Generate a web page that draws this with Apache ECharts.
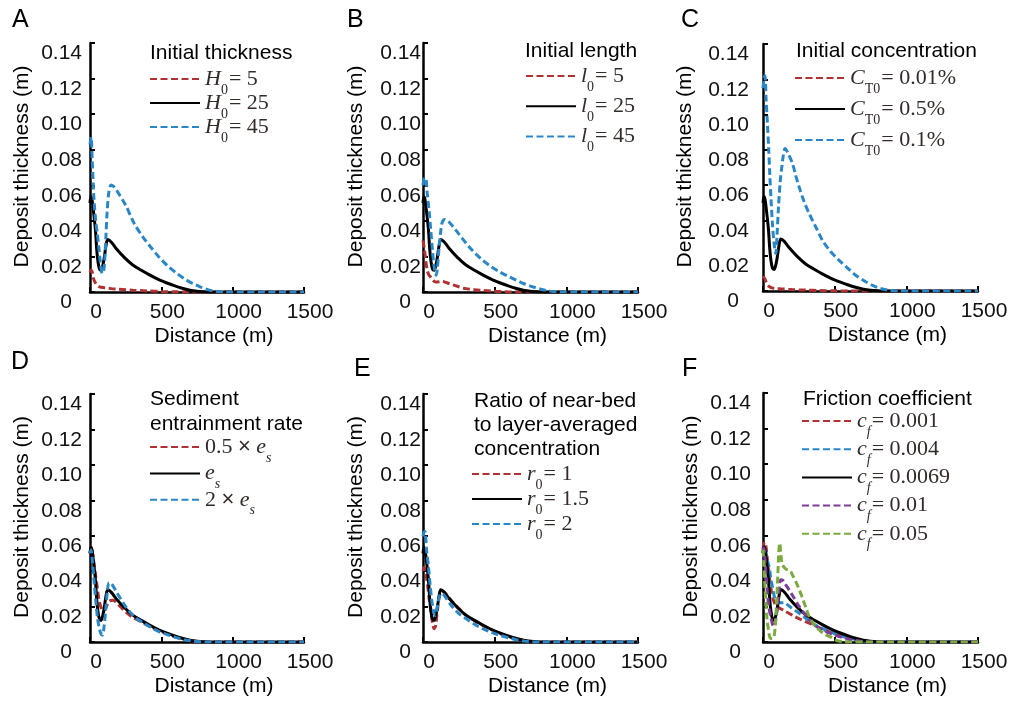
<!DOCTYPE html>
<html><head><meta charset="utf-8">
<script src="https://cdn.jsdelivr.net/npm/echarts@6/dist/echarts.min.js"></script>
<style>html,body{margin:0;padding:0;background:#fff}#c{width:1016px;height:701px}</style>
</head><body><div id="c"></div>
<script>
// ---------- data (distance m, deposit thickness m) ----------
const xTickValues = [0, 500, 1000, 1500];
const yTickValues = [0, 0.02, 0.04, 0.06, 0.08, 0.10, 0.12, 0.14];
const panelLetters = ['A', 'B', 'C', 'D', 'E', 'F'];
const panelTitles = ['Initial thickness', 'Initial length', 'Initial concentration',
  'Sediment\nentrainment rate', 'Ratio of near-bed\nto layer-averaged\nconcentration', 'Friction coefficient'];

// reference case (black solid curve, identical in every panel)
const baseCase = [[0,0.050],[6,0.0535],[14,0.052],[25,0.045],[38,0.035],[47,0.024],[56,0.017],[66,0.0130],[77,0.0122],[90,0.015],[101,0.020],[112,0.026],[124,0.0295],[150,0.028],[183,0.0245],[240,0.0195],[300,0.0152],[360,0.0122],[417,0.0096],[475,0.0072],[535,0.0052],[595,0.0034],[652,0.002],[700,0.001],[750,0.0004],[800,0.0001],[850,0],[1500,0]];

// A: initial thickness
const A_H5 = [[0,0.011],[8,0.0124],[16,0.011],[25,0.0075],[35,0.0055],[50,0.0038],[70,0.0028],[100,0.0024],[150,0.0019],[200,0.0015],[300,0.0010],[400,0.0006],[500,0.0003],[600,0.0001],[700,0],[1500,0]];
const A_H45 = [[0,0.083],[8,0.087],[15,0.075],[28,0.052],[40,0.040],[51,0.033],[62,0.025],[72,0.017],[86,0.0104],[96,0.012],[104,0.019],[112,0.032],[120,0.045],[132,0.056],[148,0.0602],[170,0.059],[200,0.0555],[250,0.0488],[310,0.0385],[370,0.031],[425,0.0253],[480,0.020],[540,0.015],[600,0.011],[660,0.0075],[720,0.0048],[775,0.0028],[830,0.0012],[890,0.0003],[950,0],[1500,0]];

// B: initial length
const B_l5 = [[0,0.029],[10,0.024],[19,0.0178],[30,0.012],[42,0.0095],[54,0.0084],[70,0.0065],[89,0.0056],[110,0.0057],[136,0.006],[160,0.0054],[183,0.0047],[240,0.0032],[300,0.0019],[360,0.0013],[417,0.0009],[480,0.0005],[550,0.0002],[620,0],[1500,0]];
const B_l45 = [[0,0.060],[10,0.064],[19,0.064],[30,0.055],[42,0.046],[55,0.034],[66,0.0235],[78,0.014],[92,0.0094],[100,0.013],[112,0.025],[125,0.035],[135,0.0394],[152,0.0408],[180,0.0395],[229,0.0348],[275,0.030],[323,0.0253],[370,0.0213],[417,0.0178],[475,0.0143],[535,0.0113],[595,0.0088],[652,0.0066],[710,0.0045],[770,0.0028],[830,0.0014],[887,0.0005],[950,0],[1500,0]];

// C: initial concentration
const C_001 = [[0,0.0073],[7,0.0078],[15,0.0065],[25,0.0045],[42,0.0026],[60,0.0018],[89,0.0015],[130,0.0012],[200,0.0008],[300,0.0005],[400,0.0003],[500,0.0001],[600,0],[1500,0]];
const C_01 = [[0,0.115],[8,0.121],[14,0.122],[22,0.108],[31,0.0948],[40,0.080],[47,0.0665],[56,0.052],[66,0.038],[77,0.027],[89,0.0212],[98,0.032],[108,0.0476],[120,0.062],[131,0.0702],[142,0.077],[154,0.0807],[175,0.078],[206,0.0722],[230,0.065],[252,0.059],[285,0.051],[322,0.0439],[370,0.036],[415,0.0287],[470,0.0225],[531,0.0174],[590,0.013],[647,0.0089],[705,0.0058],[764,0.0032],[820,0.0014],[880,0.0004],[940,0],[1500,0]];

// D: sediment entrainment rate
const D_half = [[0,0.050],[9,0.0538],[18,0.050],[28,0.044],[40,0.037],[52,0.030],[63,0.0236],[75,0.020],[86,0.018],[100,0.018],[115,0.020],[135,0.023],[160,0.0235],[200,0.021],[250,0.017],[308,0.0135],[370,0.011],[425,0.0085],[480,0.0065],[541,0.0045],[600,0.0028],[658,0.0016],[720,0.0006],[780,0.0001],[850,0],[1500,0]];
const D_double = [[0,0.050],[7,0.052],[15,0.047],[28,0.035],[40,0.0236],[52,0.014],[63,0.0085],[75,0.005],[86,0.0038],[96,0.007],[110,0.018],[122,0.029],[133,0.0335],[150,0.033],[191,0.0275],[250,0.020],[308,0.0145],[370,0.011],[425,0.0083],[480,0.006],[541,0.0042],[600,0.0026],[658,0.0013],[720,0.0005],[780,0.0001],[850,0],[1500,0]];

// E: near-bed ratio
const E_r1 = [[0,0.040],[8,0.042],[18,0.039],[31,0.033],[42,0.025],[54,0.0178],[66,0.011],[77,0.0075],[88,0.009],[100,0.0178],[115,0.026],[131,0.029],[160,0.027],[206,0.0226],[250,0.019],[300,0.015],[360,0.012],[417,0.0094],[475,0.007],[535,0.0047],[595,0.003],[652,0.0019],[710,0.0008],[770,0.0002],[830,0],[1500,0]];
const E_r2 = [[0,0.0595],[7,0.062],[14,0.0624],[25,0.052],[38,0.0425],[50,0.032],[61,0.0236],[72,0.018],[84,0.015],[96,0.018],[108,0.0236],[120,0.027],[131,0.0273],[160,0.025],[206,0.0197],[250,0.016],[300,0.0132],[360,0.010],[417,0.0075],[475,0.0055],[535,0.0038],[595,0.0024],[652,0.0013],[710,0.0005],[770,0.0001],[830,0],[1500,0]];

// F: friction coefficient
const F_001 = [[0,0.052],[10,0.056],[20,0.054],[31,0.046],[45,0.036],[60,0.028],[75,0.023],[95,0.020],[117,0.019],[150,0.0175],[210,0.0148],[260,0.0128],[310,0.011],[345,0.0098],[400,0.0078],[460,0.0058],[530,0.0038],[600,0.0022],[670,0.001],[740,0.0003],[800,0],[1500,0]];
const F_004 = [[0,0.050],[10,0.0537],[18,0.052],[30,0.046],[42,0.0425],[54,0.036],[66,0.031],[78,0.026],[89,0.0237],[105,0.0225],[125,0.022],[145,0.0222],[170,0.021],[200,0.019],[229,0.0175],[280,0.0145],[345,0.0105],[400,0.008],[460,0.006],[530,0.0038],[600,0.0022],[670,0.001],[740,0.0003],[800,0],[1500,0]];
const F_01 = [[0,0.052],[6,0.053],[14,0.046],[22,0.037],[31,0.0273],[42,0.019],[54,0.0143],[66,0.010],[77,0.0086],[88,0.012],[101,0.020],[112,0.029],[124,0.035],[140,0.0345],[160,0.032],[182,0.0293],[215,0.025],[252,0.020],[300,0.0148],[345,0.0105],[380,0.0085],[415,0.0068],[470,0.0048],[531,0.0031],[590,0.0017],[647,0.0008],[700,0.0002],[760,0],[1500,0]];
const F_05 = [[0,0.052],[5,0.045],[12,0.033],[19,0.0237],[28,0.013],[38,0.0068],[46,0.003],[54,0.002],[65,0.002],[77,0.003],[88,0.012],[101,0.033],[110,0.050],[117,0.0556],[126,0.048],[136,0.0434],[160,0.041],[189,0.040],[210,0.037],[229,0.034],[255,0.029],[280,0.0237],[300,0.019],[322,0.0143],[350,0.0105],[380,0.0077],[410,0.0055],[439,0.004],[467,0.003],[509,0.001],[560,0.0002],[620,0],[1500,0]];

// legend labels (rich text)
const legendLabels = {
  A1: '{i|H}{s|0}{n|= 5}', A2: '{i|H}{s|0}{n|= 25}', A3: '{i|H}{s|0}{n|= 45}',
  B1: '{i|l}{s|0}{n|= 5}', B2: '{i|l}{s|0}{n|= 25}', B3: '{i|l}{s|0}{n|= 45}',
  C1: '{i|C}{s|T0}{n|= 0.01%}', C2: '{i|C}{s|T0}{n|= 0.5%}', C3: '{i|C}{s|T0}{n|= 0.1%}',
  D1: '{n|0.5 }{x|×}{n| }{i|e}{si|s}', D2: '{i|e}{si|s}', D3: '{n|2 }{x|×}{n| }{i|e}{si|s}',
  E1: '{i|r}{s|0}{n|= 1}', E2: '{i|r}{s|0}{n|= 1.5}', E3: '{i|r}{s|0}{n|= 2}',
  F1: '{i|c}{si|f}{n|= 0.001}', F2: '{i|c}{si|f}{n|= 0.004}', F3: '{i|c}{si|f}{n|= 0.0069}',
  F4: '{i|c}{si|f}{n|= 0.01}', F5: '{i|c}{si|f}{n|= 0.05}'
};

// ---------- styling / layout ----------
const SANS = 'Liberation Sans, Arial, sans-serif';
const SERIF = 'Liberation Serif, Times New Roman, serif';
const RED = '#b03232', BLUE = '#2a87c7', BLACK = '#000000', PURPLE = '#7d3c98', GREEN = '#7bab3d';

const panels = [
  { grid:{left:90, top:43, width:214, height:249}, letter:{left:12, top:8}, title:{left:150, top:41},
    legend:{left:149, top:61, gap:-12}, yGap:57, labMargin:8,
    series:[['A1',A_H5,RED,true],['A2',baseCase,BLACK,false],['A3',A_H45,BLUE,true]] },
  { grid:{left:423, top:43, width:215, height:249}, letter:{left:347, top:8}, title:{left:525, top:39},
    legend:{left:525, top:58, gap:-5.7}, yGap:56, labMargin:2,
    series:[['B1',B_l5,RED,true],['B2',baseCase,BLACK,false],['B3',B_l45,BLUE,true]] },
  { grid:{left:763, top:44, width:215, height:247}, letter:{left:681, top:8}, title:{left:796, top:39},
    legend:{left:794, top:60, gap:-5}, yGap:67, labMargin:14,
    series:[['C1',C_001,RED,true],['C2',baseCase,BLACK,false],['C3',C_01,BLUE,true]] },
  { grid:{left:90, top:394, width:214, height:248}, letter:{left:11, top:350}, title:{left:150, top:387, lh:25},
    legend:{left:149, top:429, gap:-9.6}, yGap:57, labMargin:8,
    series:[['D1',D_half,RED,true],['D2',baseCase,BLACK,false],['D3',D_double,BLUE,true]] },
  { grid:{left:423, top:394, width:215, height:248}, letter:{left:354, top:357}, title:{left:474, top:389, lh:24.2},
    legend:{left:471, top:456, gap:-11}, yGap:56, labMargin:2,
    series:[['E1',E_r1,RED,true],['E2',baseCase,BLACK,false],['E3',E_r2,BLUE,true]] },
  { grid:{left:763, top:393, width:215, height:249}, letter:{left:682, top:357}, title:{left:803, top:387},
    legend:{left:801, top:403, gap:-7.8}, yGap:61, labMargin:12,
    series:[['F1',F_001,RED,true],['F2',F_004,BLUE,true],['F3',baseCase,BLACK,false],['F4',F_01,PURPLE,true],['F5',F_05,GREEN,true]] }
];

const richLegend = {
  i: {fontFamily:SERIF, fontStyle:'italic', fontSize:22, lineHeight:20, color:'#332a2a'},
  n: {fontFamily:SERIF, fontSize:22, lineHeight:20, color:'#332a2a'},
  x: {fontFamily:SANS, fontSize:22, lineHeight:20, color:'#332a2a'},
  s: {fontFamily:SERIF, fontSize:14, lineHeight:12, padding:[22,1,0,0], color:'#332a2a'},
  si:{fontFamily:SERIF, fontStyle:'italic', fontSize:14, lineHeight:12, padding:[22,1,0,0], color:'#332a2a'}
};

const option = {
  backgroundColor:'#fff',
  animation:false,
  title:[], grid:[], xAxis:[], yAxis:[], legend:[], series:[]
};

panels.forEach((p, k) => {
  option.grid.push(Object.assign({containLabel:false}, p.grid));
  option.title.push({text: panelLetters[k], left:p.letter.left, top:p.letter.top, padding:0,
    textStyle:{fontFamily:SANS, fontSize:25, fontWeight:'normal', color:'#000', lineHeight:25}});
  option.title.push({text: panelTitles[k], left:p.title.left, top:p.title.top, padding:0,
    textStyle:{fontFamily:SANS, fontSize:21, fontWeight:'normal', color:'#000', lineHeight:p.title.lh || 24}});
  option.xAxis.push({
    type:'value', gridIndex:k, min:xTickValues[0], max:xTickValues[xTickValues.length-1],
    interval:xTickValues[1]-xTickValues[0],
    name:'Distance (m)', nameLocation:'middle', nameGap:34,
    nameTextStyle:{fontFamily:SANS, fontSize:21, color:'#000', padding:[0,0,0,34]},
    axisLine:{show:true, onZero:false, lineStyle:{color:'#000', width:2.5}},
    axisTick:{show:true, inside:true, length:5, lineStyle:{color:'#000', width:2}},
    axisLabel:{fontFamily:SANS, fontSize:21, color:'#111', margin:10, padding:[0,0,0,12],
      formatter: v => String(v)},
    splitLine:{show:false}
  });
  option.yAxis.push({
    type:'value', gridIndex:k, min:yTickValues[0], max:yTickValues[yTickValues.length-1],
    interval:yTickValues[1]-yTickValues[0],
    name:'Deposit thickness (m)', nameLocation:'middle', nameGap:p.yGap,
    nameTextStyle:{fontFamily:SANS, fontSize:21, color:'#000', padding:[0,0,0,2]},
    axisLine:{show:true, onZero:false, lineStyle:{color:'#000', width:2.5}},
    axisTick:{show:true, inside:true, length:5, lineStyle:{color:'#000', width:2}},
    axisLabel:{fontFamily:SANS, fontSize:21, color:'#111', margin:p.labMargin, verticalAlign:'top',
      formatter: v => v === 0 ? '{z|0}' : v.toFixed(2),
      rich:{z:{fontFamily:SANS, fontSize:21, color:'#111', padding:[0,10,0,0]}}},
    splitLine:{show:false}
  });
  option.legend.push({
    data: p.series.map(s => s[0]), orient:'vertical', left:p.legend.left, top:p.legend.top,
    padding:0, itemGap:p.legend.gap, itemWidth:50, itemHeight:14, selectedMode:false,
    itemStyle:{opacity:0, borderWidth:0},
    formatter: name => legendLabels[name],
    textStyle:{rich:richLegend}
  });
  p.series.forEach(s => {
    option.series.push({
      name:s[0], type:'line', xAxisIndex:k, yAxisIndex:k, data:s[1],
      symbol:'none', smooth:0.3, clip:true,
      lineStyle:{color:s[2], width:3, type: s[3] ? [7,3.5] : 'solid'},
      itemStyle:{color:s[2]}
    });
  });
});

const chart = echarts.init(document.getElementById('c'), null, {renderer:'canvas'});
chart.setOption(option);
</script></body></html>
